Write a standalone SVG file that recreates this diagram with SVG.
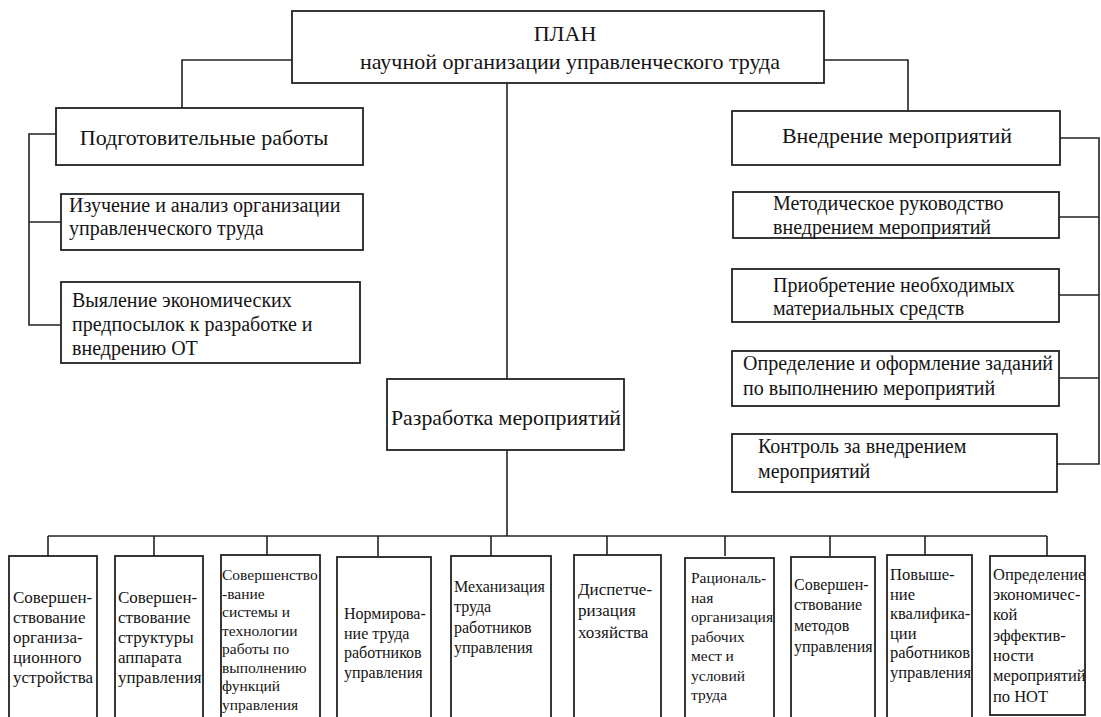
<svg xmlns="http://www.w3.org/2000/svg" width="1101" height="717" viewBox="0 0 1101 717" font-family="'Liberation Serif', 'Times New Roman', Times, serif">
<style>
  .box { fill: #ffffff; stroke: #222222; stroke-width: 1.8; }
  .line { fill: none; stroke: #222222; stroke-width: 1.6; }
  .tx { font-family: 'Liberation Serif', 'Times New Roman', Times, serif; fill: #141414; }
  .t22 { font-size: 22px; }
  .t20 { font-size: 20px; }
  .b17 { font-size: 17px; }
  .b16 { font-size: 16px; }
  .b15 { font-size: 15.5px; }
</style>
<rect x="0" y="0" width="1101" height="717" fill="#ffffff"/>

<g id="connectors">
  <path class="line" d="M292,60 H182 V108"/>
  <path class="line" d="M824,60 H908 V111"/>
  <path class="line" d="M507,83 V379"/>
  <path class="line" d="M507,450 V536"/>
  <path class="line" d="M56,134 H29 V325 H61 M29,222 H61"/>
  <path class="line" d="M1060,138 H1099 V464 H1057 M1059,217 H1099 M1059,295 H1099 M1059,378 H1099"/>
  <path class="line" d="M48,536 H1047 M48,536 V556 M154,536 V556 M267,536 V556 M378,536 V556 M491,536 V556 M607,536 V556 M725,536 V556 M830,536 V556 M925,536 V556 M1047,536 V556"/>
</g>

<g id="plan">
  <rect class="box" x="292" y="11" width="532" height="72"/>
  <text class="tx t22" x="565" y="41" text-anchor="middle">ПЛАН</text>
  <text class="tx t22" x="570" y="69" text-anchor="middle">научной организации управленческого труда</text>
</g>

<g id="podgot">
  <rect class="box" x="56" y="108" width="307" height="57"/>
  <text class="tx t22" x="204" y="145" text-anchor="middle">Подготовительные работы</text>
</g>
<g id="izuch">
  <rect class="box" x="61" y="194" width="302" height="56"/>
  <text class="tx t20" x="69" y="212">Изучение и анализ организации</text>
  <text class="tx t20" x="69" y="235">управленческого труда</text>
</g>
<g id="vyyav">
  <rect class="box" x="61" y="282" width="299" height="81"/>
  <text class="tx t20" x="72" y="307">Выяление экономических</text>
  <text class="tx t20" x="72" y="331">предпосылок к разработке и</text>
  <text class="tx t20" x="72" y="355">внедрению ОТ</text>
</g>

<g id="vnedr">
  <rect class="box" x="732" y="111" width="328" height="54"/>
  <text class="tx t22" x="897" y="143" text-anchor="middle">Внедрение мероприятий</text>
</g>
<g id="metod">
  <rect class="box" x="733" y="192" width="326" height="46"/>
  <text class="tx t20" x="773" y="210">Методическое руководство</text>
  <text class="tx t20" x="773" y="234">внедрением мероприятий</text>
</g>
<g id="priobr">
  <rect class="box" x="732" y="269" width="327" height="53"/>
  <text class="tx t20" x="773" y="292">Приобретение необходимых</text>
  <text class="tx t20" x="773" y="315">материальных средств</text>
</g>
<g id="opred">
  <rect class="box" x="732" y="351" width="327" height="55"/>
  <text class="tx t20" x="743" y="370">Определение и оформление заданий</text>
  <text class="tx t20" x="743" y="395">по выполнению мероприятий</text>
</g>
<g id="kontrol">
  <rect class="box" x="732" y="434" width="325" height="58"/>
  <text class="tx t20" x="758" y="453">Контроль за внедрением</text>
  <text class="tx t20" x="758" y="478">мероприятий</text>
</g>

<g id="razrab">
  <rect class="box" x="387" y="379" width="237" height="71"/>
  <text class="tx t22" x="391" y="425" textLength="230" lengthAdjust="spacingAndGlyphs">Разработка мероприятий</text>
</g>

<g id="b1">
  <rect class="box" x="9" y="556" width="88" height="170"/>
  <text class="tx b17" x="13"><tspan x="13" y="603">Совершен-</tspan><tspan x="13" y="623">ствование</tspan><tspan x="13" y="643">организа-</tspan><tspan x="13" y="663">ционного</tspan><tspan x="13" y="683">устройства</tspan></text>
</g>
<g id="b2">
  <rect class="box" x="115" y="556" width="88" height="170"/>
  <text class="tx b17" x="118"><tspan x="118" y="603">Совершен-</tspan><tspan x="118" y="623">ствование</tspan><tspan x="118" y="643">структуры</tspan><tspan x="118" y="663">аппарата</tspan><tspan x="118" y="683">управления</tspan></text>
</g>
<g id="b3">
  <rect class="box" x="221" y="555" width="99" height="170"/>
  <text class="tx b15" x="222"><tspan x="222" y="580">Совершенство</tspan><tspan x="222" y="598.5">-вание</tspan><tspan x="222" y="617">системы и</tspan><tspan x="222" y="635.5">технологии</tspan><tspan x="222" y="654">работы по</tspan><tspan x="222" y="672.5">выполнению</tspan><tspan x="222" y="691">функций</tspan><tspan x="222" y="709.5">управления</tspan></text>
</g>
<g id="b4">
  <rect class="box" x="337" y="557" width="94" height="170"/>
  <text class="tx b16" x="344"><tspan x="344" y="619">Нормирова-</tspan><tspan x="344" y="639">ние труда</tspan><tspan x="344" y="658">работников</tspan><tspan x="344" y="678">управления</tspan></text>
</g>
<g id="b5">
  <rect class="box" x="451" y="556" width="100" height="170"/>
  <text class="tx b16" x="454"><tspan x="454" y="592">Механизация</tspan><tspan x="454" y="612">труда</tspan><tspan x="454" y="633">работников</tspan><tspan x="454" y="653">управления</tspan></text>
</g>
<g id="b6">
  <rect class="box" x="574" y="555" width="87" height="170"/>
  <text class="tx b17" x="578"><tspan x="578" y="595">Диспетче-</tspan><tspan x="578" y="616">ризация</tspan><tspan x="578" y="638">хозяйства</tspan></text>
</g>
<g id="b7">
  <rect class="box" x="685" y="558" width="89" height="170"/>
  <text class="tx b15" x="691"><tspan x="691" y="583">Рациональ-</tspan><tspan x="691" y="603">ная</tspan><tspan x="691" y="622">организация</tspan><tspan x="691" y="642">рабочих</tspan><tspan x="691" y="661">мест и</tspan><tspan x="691" y="681">условий</tspan><tspan x="691" y="700">труда</tspan></text>
</g>
<g id="b8">
  <rect class="box" x="791" y="557" width="84" height="170"/>
  <text class="tx b16" x="794"><tspan x="794" y="590">Совершен-</tspan><tspan x="794" y="610">ствование</tspan><tspan x="794" y="631">методов</tspan><tspan x="794" y="652">управления</tspan></text>
</g>
<g id="b9">
  <rect class="box" x="887" y="555" width="85" height="170"/>
  <text class="tx" x="890" font-size="16.5"><tspan x="890" y="580">Повыше-</tspan><tspan x="890" y="600">ние</tspan><tspan x="890" y="619">квалифика-</tspan><tspan x="890" y="639">ции</tspan><tspan x="890" y="658">работников</tspan><tspan x="890" y="678">управления</tspan></text>
</g>
<g id="b10">
  <rect class="box" x="990" y="556" width="95" height="159"/>
  <text class="tx" x="993" font-size="16.5"><tspan x="993" y="580">Определение</tspan><tspan x="993" y="600">экономичес-</tspan><tspan x="993" y="620">кой</tspan><tspan x="993" y="641">эффектив-</tspan><tspan x="993" y="661">ности</tspan><tspan x="993" y="681">мероприятий</tspan><tspan x="993" y="702">по НОТ</tspan></text>
</g>
</svg>
